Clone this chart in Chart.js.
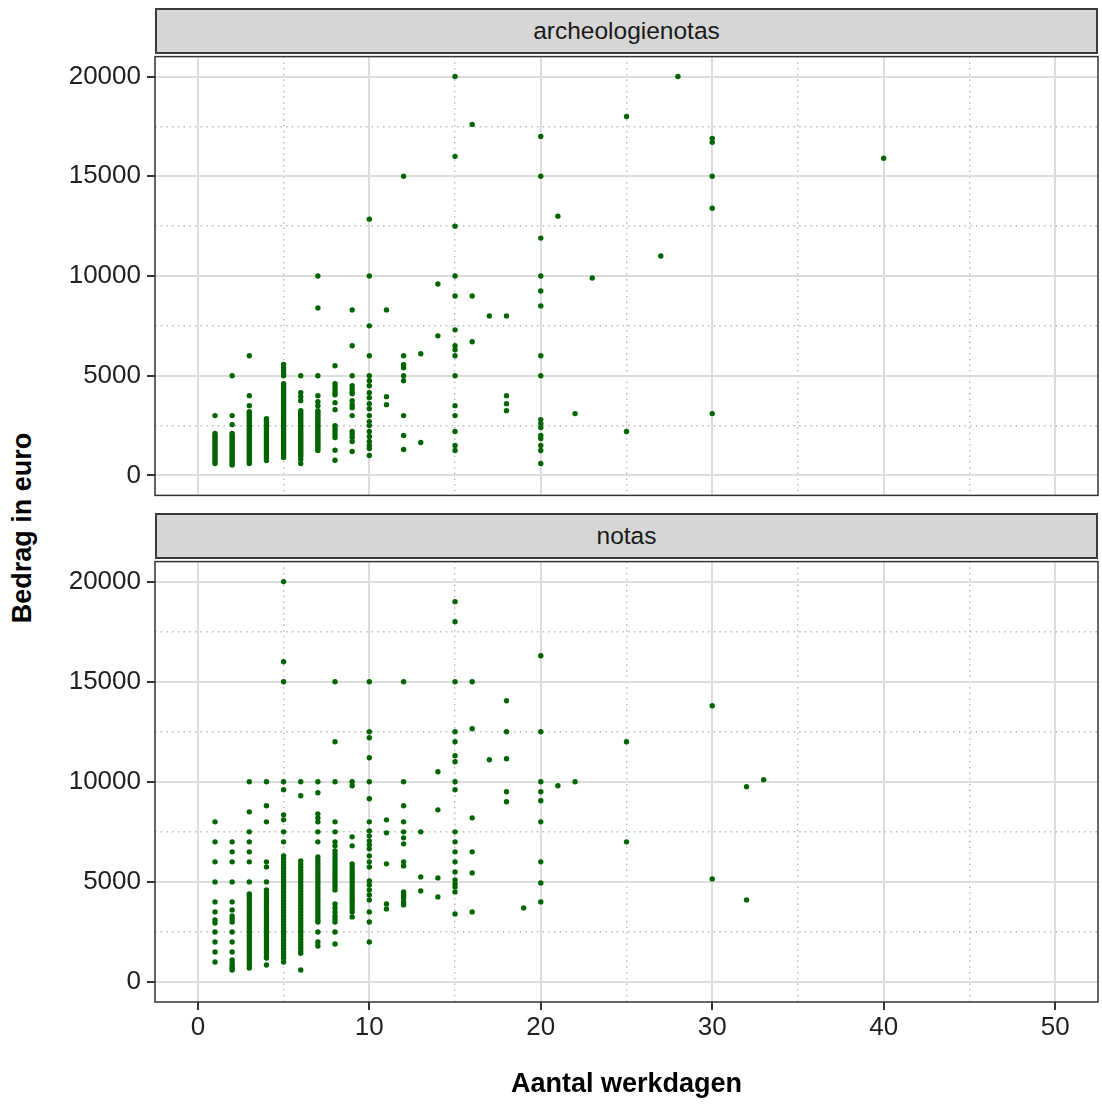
<!DOCTYPE html>
<html>
<head>
<meta charset="utf-8">
<script src="https://cdn.jsdelivr.net/npm/chart.js@4.4.1/dist/chart.umd.min.js"></script>
<style>
  html, body { margin: 0; padding: 0; background: #fff; }
  body { width: 1102px; height: 1106px; position: relative; overflow: hidden; font-family: "Liberation Sans", Arial, sans-serif; }
  canvas { position: absolute; left: 0; }
  .strip { position: absolute; left: 155px; width: 943px; height: 46px; box-sizing: border-box; background: #d6d6d6; border: 2px solid #3a3a3a; color: #1a1a1a; font-size: 24.5px; text-align: center; line-height: 42px; z-index: 2; }
  #ytitle { position: absolute; left: 22px; top: 528px; transform: translate(-50%, -50%) rotate(-90deg); font-weight: bold; font-size: 27px; white-space: nowrap; color: #000; }
</style>
</head>
<body>
<div id="ytitle">Bedrag in euro</div>
<div class="strip" id="strip0" style="top:8px"></div>
<canvas id="chartTop" width="1102" height="482" style="top:35px"></canvas>
<div class="strip" id="strip1" style="top:513px"></div>
<canvas id="chartBottom" width="1102" height="566" style="top:540px"></canvas>
<script>
const panelNames = ['archeologienotas', 'notas'];
const xMajor = [0, 10, 20, 30, 40, 50];
const xMinor = [5, 15, 25, 35, 45];
const yMajor = [0, 5000, 10000, 15000, 20000];
const yMinor = [2500, 7500, 12500, 17500];

// archeologienotas: werkdagen, and the amounts
const archDays = [1, 2, 3, 4, 5, 6, 7, 8, 9, 10, 11, 12, 13, 14, 15, 16, 17, 18, 20, 21, 22, 23, 25, 27, 28, 30, 40];
const archAmounts = [
  [3000, 2100, 2000, 1900, 1800, 1700, 1600, 1500, 1400, 1300, 1200, 1100, 1000, 900, 800, 700, 600],
  [5000, 3000, 2550, 2100, 2000, 1900, 1800, 1700, 1600, 1500, 1400, 1300, 1200, 1100, 1000, 900, 800, 700, 600, 520],
  [6000, 4000, 3500, 3200, 3100, 3000, 2900, 2800, 2700, 2600, 2500, 2400, 2300, 2200, 2100, 2000, 1900, 1800, 1700, 1600, 1500, 1400, 1300, 1200, 1100, 1000, 900, 800, 700, 600],
  [2850, 2750, 2650, 2550, 2450, 2350, 2250, 2150, 2050, 1950, 1850, 1750, 1650, 1550, 1450, 1350, 1250, 1150, 1050, 950, 850, 750],
  [5570, 5400, 5250, 5100, 5000, 4600, 4500, 4400, 4300, 4200, 4100, 4000, 3900, 3800, 3700, 3600, 3500, 3400, 3300, 3200, 3100, 3000, 2900, 2800, 2700, 2600, 2500, 2400, 2300, 2200, 2100, 2000, 1900, 1800, 1700, 1600, 1500, 1400, 1300, 1200, 1100, 1000, 900],
  [5000, 4150, 3950, 3750, 3250, 3150, 3050, 2950, 2850, 2750, 2650, 2550, 2450, 2350, 2250, 2150, 2050, 1950, 1850, 1750, 1650, 1550, 1450, 1350, 1250, 1150, 1050, 950, 800, 600],
  [10000, 8400, 5000, 4000, 3700, 3500, 3250, 3150, 3050, 2950, 2850, 2750, 2650, 2550, 2450, 2350, 2250, 2150, 2050, 1950, 1850, 1750, 1650, 1550, 1450, 1350, 1250],
  [5500, 4600, 4450, 4300, 4150, 4050, 3650, 3300, 2500, 2350, 2200, 2050, 1900, 1260, 760],
  [8300, 6500, 5000, 4500, 4350, 4200, 4100, 3750, 3550, 3400, 3000, 2200, 2050, 1900, 1700, 1200],
  [12850, 10000, 7500, 6000, 5000, 4750, 4500, 4150, 3900, 3600, 3350, 3000, 2700, 2500, 2200, 1950, 1700, 1500, 1350, 1000],
  [8300, 3950, 3550],
  [15000, 6000, 5550, 5400, 5000, 4750, 3000, 2000, 1300],
  [6100, 1650],
  [9600, 7000],
  [20000, 16000, 12500, 10000, 9000, 7300, 6500, 6300, 6000, 5000, 3500, 3000, 2200, 1500, 1250],
  [17600, 9000, 6700],
  [8000],
  [8000, 4000, 3600, 3250],
  [17000, 15000, 11900, 10000, 9250, 8500, 6000, 5000, 2800, 2600, 2400, 2000, 1850, 1500, 1250, 600],
  [13000],
  [3100],
  [9900],
  [18000, 2200],
  [11000],
  [20000],
  [16900, 16700, 15000, 13400, 3100],
  [15900]
];

// notas
const notasDays = [1, 2, 3, 4, 5, 6, 7, 8, 9, 10, 11, 12, 13, 14, 15, 16, 17, 18, 19, 20, 21, 22, 25, 30, 32, 33];
const notasAmounts = [
  [8000, 7000, 6000, 5000, 4000, 3500, 3100, 2950, 2500, 2000, 1500, 1000],
  [7000, 6500, 6000, 5000, 4000, 3600, 3300, 3150, 3000, 2500, 2000, 1500, 1100, 950, 800, 700, 600],
  [10000, 8500, 7500, 7000, 6500, 6000, 5000, 4400, 4300, 4150, 4000, 3850, 3700, 3550, 3400, 3250, 3100, 2950, 2800, 2650, 2500, 2350, 2200, 2050, 1900, 1750, 1600, 1450, 1300, 1150, 1000, 850, 700],
  [10000, 8800, 8000, 6000, 5750, 5000, 4600, 4450, 4300, 4150, 4000, 3850, 3700, 3550, 3400, 3250, 3100, 2950, 2800, 2650, 2500, 2350, 2200, 2050, 1900, 1750, 1600, 1450, 1300, 1200, 850],
  [20000, 16000, 15000, 10000, 9600, 8350, 8100, 7500, 7000, 6300, 6150, 6000, 5850, 5700, 5550, 5400, 5250, 5100, 4950, 4800, 4650, 4500, 4350, 4200, 4050, 3900, 3750, 3600, 3450, 3300, 3150, 3000, 2850, 2700, 2550, 2400, 2250, 2100, 1950, 1800, 1650, 1500, 1350, 1200, 1000],
  [10000, 9300, 6050, 5900, 5750, 5600, 5450, 5300, 5150, 5000, 4850, 4700, 4550, 4400, 4250, 4100, 3950, 3800, 3650, 3500, 3350, 3200, 3050, 2900, 2750, 2600, 2450, 2300, 2150, 2000, 1850, 1700, 1550, 1430, 600],
  [10000, 9450, 8400, 8200, 8000, 7500, 7000, 6250, 6100, 5950, 5800, 5650, 5500, 5350, 5200, 5050, 4900, 4750, 4600, 4450, 4300, 4150, 4000, 3850, 3700, 3550, 3400, 3250, 3100, 3000, 2500, 2000, 1800],
  [15000, 12000, 10000, 8000, 7500, 7000, 6800, 6550, 6400, 6250, 6100, 5950, 5800, 5650, 5500, 5350, 5200, 5050, 4900, 4750, 4600, 3900, 3700, 3500, 3300, 3150, 3000, 2500, 1900],
  [10000, 9800, 7250, 6800, 5900, 5750, 5600, 5450, 5300, 5150, 5000, 4850, 4700, 4550, 4400, 4250, 4100, 3950, 3800, 3650, 3500, 3250],
  [15000, 12500, 12200, 11200, 10000, 9150, 8000, 7550, 7300, 7050, 6850, 6650, 6300, 6000, 5750, 5050, 4850, 4600, 4350, 4100, 3500, 3000, 2000],
  [8100, 7450, 5900, 3900, 3650],
  [15000, 10000, 8800, 8000, 7500, 7200, 6900, 6000, 5800, 4500, 4350, 4200, 4000, 3850],
  [7500, 5250, 4550],
  [10500, 8600, 5200, 4250],
  [19000, 18000, 15000, 12500, 12000, 11300, 11000, 10000, 9600, 7500, 7000, 6500, 6000, 5500, 5100, 4900, 4750, 4500, 3400],
  [15000, 12650, 8200, 6500, 5450, 3500],
  [11100],
  [14050, 12500, 11150, 9500, 9000],
  [3700],
  [16300, 12500, 10000, 9500, 9050, 8000, 6000, 4950, 4000],
  [9800],
  [10000],
  [12000, 7000],
  [13800, 5150],
  [9750, 4100],
  [10100]
];

document.getElementById('strip0').textContent = panelNames[0];
document.getElementById('strip1').textContent = panelNames[1];

const fontFamily = '"Liberation Sans", Arial, sans-serif';

function toPoints(days, amounts) {
  return days.flatMap((d, i) => amounts[i].map(v => ({ x: d, y: v })));
}

// replace the generated ticks by a fixed list of values
const setTicks = vals => scale => { scale.ticks = vals.map(v => ({ value: v })); };

// panel frame around the plotting area
const panelBorder = {
  id: 'panelBorder',
  afterDraw(chart) {
    const { ctx, chartArea: a } = chart;
    ctx.save();
    ctx.strokeStyle = '#333';
    ctx.lineWidth = 1.5;
    ctx.strokeRect(a.left, a.top, a.right - a.left, a.bottom - a.top);
    ctx.restore();
  }
};

function makeChart(id, days, amounts, showX) {
  const tickFont = { family: fontFamily, size: 26 };
  new Chart(document.getElementById(id), {
    type: 'scatter',
    data: {
      datasets: [{
        data: toPoints(days, amounts),
        backgroundColor: '#006400',
        borderWidth: 0,
        pointRadius: 2.7,
        pointHoverRadius: 2.7
      }]
    },
    options: {
      responsive: false,
      animation: false,
      devicePixelRatio: 1,
      layout: { padding: { top: 20, right: 4, bottom: showX ? 0 : 20, left: 0 } },
      plugins: { legend: { display: false }, tooltip: { enabled: false } },
      scales: {
        x: {
          type: 'linear', position: 'bottom', min: -2.5, max: 52.5,
          afterBuildTicks: setTicks(xMajor),
          afterFit: s => { s.height = showX ? 104 : 0; },
          grid: { color: '#dcdcdc', lineWidth: 2, drawTicks: showX, tickLength: 8, tickColor: '#333', tickWidth: 2 },
          border: { display: false },
          ticks: { display: showX, font: tickFont, color: '#1f1f1f', padding: 2, callback: v => String(v) },
          title: {
            display: showX, text: 'Aantal werkdagen', color: '#000',
            font: { family: fontFamily, size: 27, weight: 'bold' },
            padding: { top: 0, bottom: 5 }
          }
        },
        xMinor: {
          type: 'linear', position: 'bottom', min: -2.5, max: 52.5,
          afterBuildTicks: setTicks(xMinor),
          afterFit: s => { s.height = 0; },
          grid: { color: '#b8b8b8', lineWidth: 1.4, drawTicks: false },
          border: { display: false, dash: [1.5, 4.2] },
          ticks: { display: false }
        },
        y: {
          type: 'linear', position: 'left', min: -1000, max: 21000,
          afterBuildTicks: setTicks(yMajor),
          afterFit: s => { s.width = 155; },
          grid: { color: '#dcdcdc', lineWidth: 2, tickLength: 8, tickColor: '#333', tickWidth: 2 },
          border: { display: false },
          ticks: { font: tickFont, color: '#1f1f1f', padding: 6, callback: v => String(v) }
        },
        yMinor: {
          type: 'linear', position: 'right', min: -1000, max: 21000,
          afterBuildTicks: setTicks(yMinor),
          afterFit: s => { s.width = 0; },
          grid: { color: '#b8b8b8', lineWidth: 1.4, drawTicks: false },
          border: { display: false, dash: [1.5, 4.2] },
          ticks: { display: false }
        }
      }
    },
    plugins: [panelBorder]
  });
}

makeChart('chartTop', archDays, archAmounts, false);
makeChart('chartBottom', notasDays, notasAmounts, true);
</script>
</body>
</html>
